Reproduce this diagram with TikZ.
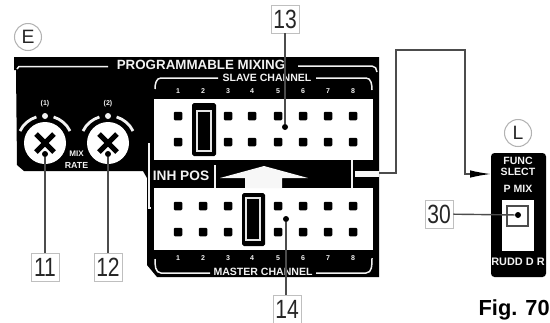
\documentclass[tikz,border=0pt]{standalone}
\usepackage{fontspec}
\setmainfont{Liberation Sans}
\newfontfamily\numfont[FakeStretch=0.8]{Liberation Sans}
\usetikzlibrary{positioning}
\usetikzlibrary{arrows.meta}
\tikzset{
    pin/.style={fill=black, rounded corners=0.6pt, minimum size=0.17cm, inner sep=0pt},
    tip/.style={circle, fill=black, minimum size=0.12cm, inner sep=0pt},
    numbox/.style={draw=black!25, line width=0.5pt, fill=white, minimum width=0.56cm, minimum height=0.56cm, inner sep=0pt,
        text=black!85, font=\numfont\fontsize{15}{15}\selectfont},
    lead/.style={draw=black!70, line width=0.8pt},
    panelline/.style={draw=black!5, line width=0.85pt},
    paneltext/.style={text=black!5, inner sep=0pt, font=\bfseries\fontsize{6}{6}\selectfont},
    smalltext/.style={paneltext, font=\bfseries\fontsize{4}{4}\selectfont},
    letter/.style={circle, draw=black!30, line width=0.6pt, minimum size=0.54cm, inner sep=0pt,
        text=black!85, font=\fontsize{11}{11}\selectfont},
    jumper/.style={fill=black, rounded corners=1pt},
    jumperin/.style={draw=black!10, line width=0.6pt}
}
\begin{document}
\begin{tikzpicture}[x=0.02cm, y=-0.02cm]
    \useasboundingbox (0,0) rectangle (550,322);

    % Main panel
    \fill[black] (14,57) -- (379,57) -- (379,277) -- (157,277) -- (147,265) -- (147,178)
        -- (143,171) -- (24,171) -- (17,165) -- (16,70) -- (14,70) -- cycle;
    \fill[white] (154,99) rectangle (373,160);
    \fill[white] (154,188) rectangle (373,250);

    % Top title and brackets
    \node[paneltext, font=\bfseries\fontsize{7.6}{8}\selectfont] (title) at (201,65) {PROGRAMMABLE MIXING};
    \draw[panelline] (17,69) -- (19,66.5) -- (108,66.5);
    \draw[panelline] (298,66) -- (372,66) to[out=0, in=90] (377,72);
    \node[paneltext] (slave) at (267,78) {SLAVE CHANNEL};
    \draw[panelline] (155,89) to[out=90, in=180] (161,78) -- (218,78);
    \draw[panelline] (316,78) -- (366,78) to[out=0, in=90] (372,90);
    \node[paneltext] (master) at (263,272) {MASTER CHANNEL};
    \draw[panelline] (155,259) to[out=-90, in=180] (161,273) -- (210,273);
    \draw[panelline] (316,273) -- (366,273) to[out=0, in=-90] (372,258);

    % Channel numbers
    \foreach \x/\n in {178/1,203/2,228/3,252/4,278/5,303/6,328/7,353/8} {
        \node[smalltext] (snum\n) at (\x,91) {\n};
        \node[smalltext] (mnum\n) at (\x,258) {\n};
    }

    % Pins
    \foreach \x in {178,228,252,278,303,328,353} {
        \node[pin] at (\x,116) {};
        \node[pin] at (\x,142) {};
    }
    \foreach \x in {178,203,228,278,303,328,353} {
        \node[pin] at (\x,206) {};
        \node[pin] at (\x,232) {};
    }

    % Jumpers
    \fill[jumper] (192,103) rectangle (216,156);
    \draw[jumperin] (197,111) rectangle (211,151);
    \fill[jumper] (242,193) rectangle (265,246);
    \draw[jumperin] (246,198) rectangle (260,240);

    % Middle band
    \node[paneltext, font=\bfseries\fontsize{7.8}{8}\selectfont] (inhpos) at (181,176) {INH POS};
    \draw[panelline] (215,165) -- (215,188);
    \fill[black!3] (264,166) -- (308,178) -- (282,178) -- (282,188) -- (245,188) -- (245,178) -- (220,178) -- cycle;
    \draw[panelline, line width=1.2pt] (352,160) -- (352,188);
    \fill[black!3] (355,171) rectangle (379,177);
    \draw[panelline] (149,143) -- (149,208) -- (151,208);

    % Knobs
    \foreach \x/\n in {45/1,108/2} {
        \fill[white] (\x,143) circle (21);
        \draw[black, line width=2.9pt] (\x-9,134) -- (\x+9,152);
        \draw[black, line width=2.9pt] (\x+9,134) -- (\x-9,152);
        \draw[panelline, line width=1.6pt] (\x-25,131) arc (-154:-107:27);
        \draw[panelline, line width=1.6pt] (\x+25,131) arc (-26:-73:27);
        \fill[black!5] (\x,116) circle (3);
        \node[smalltext] (rate\n) at (\x,104) {(\n)};
        \node[tip] (knob\n) at (\x,154) {};
    }
    \node[paneltext, font=\bfseries\fontsize{4.6}{5}\selectfont] (mix) at (76.5,154) {MIX};
    \node[paneltext, font=\bfseries\fontsize{5}{5}\selectfont] (rate) at (76.5,165) {RATE};

    % Section letters
    \node[letter] (E) at (28,37) {E};
    \node[letter] (L) at (518,133) {L};

    % Function select panel
    \fill[black, rounded corners=2pt] (491,153) rectangle (546,277);
    \fill[white] (502,200) rectangle (534,251);
    \draw[black!70, line width=0.6pt] (507,206) rectangle (528,226);
    \node[paneltext] (func) at (518,161) {FUNC};
    \node[paneltext] (slect) at (518,172) {SLECT};
    \node[paneltext] (pmix) at (518,189) {P MIX};
    \node[paneltext, font=\bfseries\fontsize{6.2}{6}\selectfont] (rudd) at (518,262) {RUDD D R};

    % Number boxes and leaders
    \node[tip] (dot13) at (285,127) {};
    \node[tip] (dot14) at (286,219) {};
    \node[tip] (dot30) at (518,215) {};
    \node[numbox] (n13) at (285,19) {13};
    \node[numbox] (n14) at (287,309) {14};
    \node[numbox] (n11) at (45,267) {11};
    \node[numbox] (n12) at (108,267) {12};
    \node[numbox] (n30) at (439,214) {30};
    \draw[lead] (n13) -- (dot13);
    \draw[lead] (n14.north -| dot14) -- (dot14);
    \draw[lead] (n11) -- (knob1);
    \draw[lead] (n12) -- (knob2);
    \draw[lead] (n30) -- (dot30);

    % Link to the select panel
    \coordinate (start) at (379,173);
    \coordinate (stop) at (491,174);
    \draw[lead, -{Latex[length=0.42cm, width=0.15cm, black]}] (start) -- (396,173) -- (396,50) -- (465,50) -- (465,174) -- (stop);

    % Caption
    \node[inner sep=0pt, anchor=base east, font=\bfseries\fontsize{12.4}{14}\selectfont] (fig) at (550,315) {Fig. 70};
\end{tikzpicture}
\end{document}
